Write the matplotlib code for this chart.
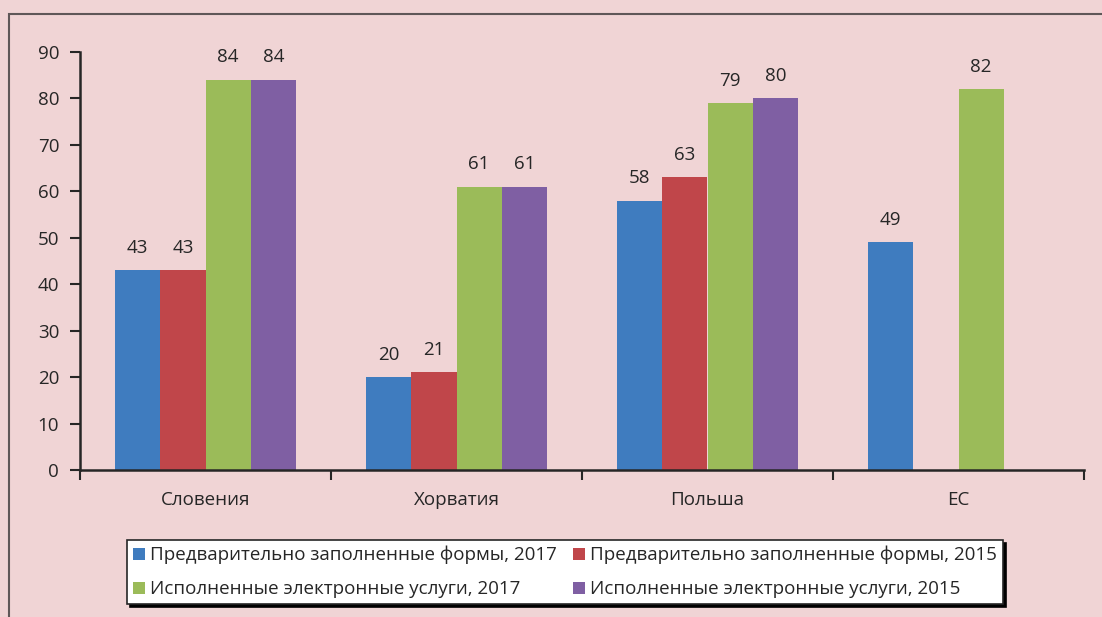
import matplotlib
matplotlib.use("Agg")
import matplotlib.pyplot as plt
import numpy as np
from matplotlib.patches import Rectangle

categories = ["Словения", "Хорватия", "Польша", "ЕС"]
series_names = ["Предварительно заполненные формы, 2017",
                "Предварительно заполненные формы, 2015",
                "Исполненные электронные услуги, 2017",
                "Исполненные электронные услуги, 2015"]
pre_2017 = [43, 20, 58, 49]
pre_2015 = [43, 21, 63, np.nan]
done_2017 = [84, 61, 79, 82]
done_2015 = [84, 61, 80, np.nan]
yticks = list(range(0, 91, 10))

colors = ["#3f7cbf", "#c0464a", "#9bbb59", "#7f5fa3"]
bg = "#f0d4d5"
txt = "#262626"
fs = 13.5

plt.rcParams['font.family'] = ['Open Sans', 'DejaVu Sans']

fig = plt.figure(figsize=(11.02, 6.17), dpi=100, facecolor=bg)
ax = fig.add_axes([80/1102, 1-470/617, (1084-80)/1102, (470-52)/617])
ax.set_facecolor(bg)

# outer frame
fig.patches.append(Rectangle((9/1102, -0.1), 1.2, 1-14/617+0.1, transform=fig.transFigure,
                             fill=False, edgecolor="#5f5758", linewidth=1.5, zorder=0))

x = np.arange(len(categories))
w = 0.18
data = [pre_2017, pre_2015, done_2017, done_2015]
handles = []
for i, (vals, c, name) in enumerate(zip(data, colors, series_names)):
    pos = x + (i - 1.5) * w
    bars = ax.bar(pos, vals, width=w, color=c, label=name, zorder=2)
    handles.append(bars)
    for p, v in zip(pos, vals):
        if not np.isnan(v):
            ax.text(p, v + 2.9, f"{v:g}", ha="center", va="bottom", fontsize=fs, color=txt)

ax.set_xlim(-0.5, len(categories) - 0.5)
ax.set_ylim(0, 90)
ax.set_yticks(yticks)
ax.tick_params(axis="y", labelsize=fs, length=7, width=1.5, colors=txt, pad=8)
ax.set_xticks(np.arange(-0.5, len(categories), 1.0))
ax.set_xticklabels([])
ax.set_xticks(x, minor=True)
ax.set_xticklabels(categories, minor=True)
ax.tick_params(axis="x", which="major", length=7, width=1.5, colors=txt)
ax.tick_params(axis="x", which="minor", length=0, labelsize=fs, pad=15, colors=txt)
for s in ["top", "right"]:
    ax.spines[s].set_visible(False)
for s in ["left", "bottom"]:
    ax.spines[s].set_linewidth(1.8)
    ax.spines[s].set_color(txt)

order = [0, 2, 1, 3]
leg = fig.legend([handles[k] for k in order], [series_names[k] for k in order],
                 loc="lower left", bbox_to_anchor=(127/1102, 1-604/617, (1003-127)/1102, (604-537)/617),
                 mode="expand", ncol=2, fontsize=fs, frameon=True, fancybox=False,
                 shadow={'color': 'black', 'alpha': 1.0},
                 handlelength=0.65, handleheight=0.65, handletextpad=0.3, columnspacing=1.0,
                 borderaxespad=0, labelspacing=0.85, borderpad=0.3)
leg.get_frame().set_edgecolor(txt)
leg.get_frame().set_linewidth(1.2)
leg.get_frame().set_facecolor("white")
for t in leg.get_texts():
    t.set_color(txt)

fig.savefig("out.png", dpi=100, facecolor=bg)
